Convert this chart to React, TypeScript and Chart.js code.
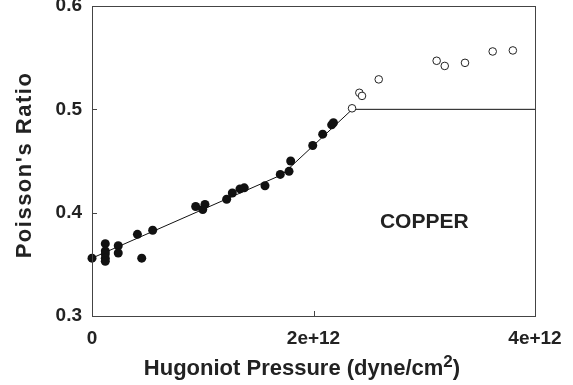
import React, { useEffect, useRef } from 'react';
import { Chart, registerables } from 'chart.js';

Chart.register(...registerables);

// Shocked copper: filled = measured solid points, open = above melt
const filledX = [0, 0.12e12, 0.12e12, 0.12e12, 0.12e12, 0.12e12, 0.237e12, 0.237e12, 0.41e12, 0.449e12, 0.548e12,
  0.936e12, 1.0e12, 1.02e12, 1.216e12, 1.267e12, 1.336e12, 1.375e12, 1.562e12, 1.70e12, 1.779e12, 1.794e12,
  1.993e12, 2.083e12, 2.164e12, 2.18e12];
const filledY = [0.356, 0.370, 0.363, 0.360, 0.356, 0.353, 0.368, 0.361, 0.379, 0.356, 0.383,
  0.406, 0.403, 0.408, 0.413, 0.419, 0.423, 0.424, 0.426, 0.437, 0.440, 0.450,
  0.465, 0.476, 0.485, 0.487];
const openX = [2.348e12, 2.414e12, 2.438e12, 2.589e12, 3.112e12, 3.185e12, 3.368e12, 3.618e12, 3.80e12];
const openY = [0.501, 0.516, 0.513, 0.529, 0.547, 0.542, 0.545, 0.556, 0.557];
const fitX = [0, 1.72e12, 2.35e12, 4e12];
const fitY = [0.356, 0.437, 0.5, 0.5];

const xTicks = [0, 2e12, 4e12];
const yTicks = [0.3, 0.4, 0.5, 0.6];
const xTitleMain = 'Hugoniot Pressure (dyne/cm';
const xTitleSup = '2';
const xTitleEnd = ')';
const yTitle = "Poisson's Ratio";
const annotation = { text: 'COPPER', x: 3.0e12, y: 0.391 };

const FONT = "'Liberation Sans', Arial, Helvetica, sans-serif";
const INK = '#222';

export default function App() {
  const ref = useRef<HTMLCanvasElement>(null);
  useEffect(() => {
    const frame = {
      id: 'frame',
      afterDatasetsDraw(chart: any) {
        const { ctx, chartArea: a, scales } = chart;
        ctx.save();
        ctx.strokeStyle = '#444';
        ctx.lineWidth = 1;
        ctx.strokeRect(Math.round(a.left) + 0.5, Math.round(a.top) + 0.5, Math.round(a.right - a.left), Math.round(a.bottom - a.top));
        ctx.beginPath();
        yTicks.forEach((v) => {
          const py = Math.round(scales.y.getPixelForValue(v)) + 0.5;
          ctx.moveTo(a.left, py);
          ctx.lineTo(a.left + 5, py);
        });
        xTicks.forEach((v) => {
          const px = Math.round(scales.x.getPixelForValue(v)) + 0.5;
          ctx.moveTo(px, a.bottom);
          ctx.lineTo(px, a.bottom - 5);
        });
        ctx.stroke();
        ctx.fillStyle = INK;
        ctx.font = `bold 21px ${FONT}`;
        ctx.textAlign = 'center';
        ctx.textBaseline = 'middle';
        ctx.fillText(annotation.text, scales.x.getPixelForValue(annotation.x), scales.y.getPixelForValue(annotation.y));

        // x title with superscript
        ctx.textBaseline = 'alphabetic';
        ctx.textAlign = 'left';
        const mainFont = `bold 22px ${FONT}`;
        const supFont = `bold 17px ${FONT}`;
        ctx.font = mainFont;
        const w1 = ctx.measureText(xTitleMain).width;
        const w3 = ctx.measureText(xTitleEnd).width;
        ctx.font = supFont;
        const w2 = ctx.measureText(xTitleSup).width;
        const total = w1 + w2 + w3;
        const cx = 302;
        const base = 375;
        let x0 = cx - total / 2;
        ctx.font = mainFont;
        ctx.fillText(xTitleMain, x0, base);
        ctx.font = supFont;
        ctx.fillText(xTitleSup, x0 + w1, base - 8);
        ctx.font = mainFont;
        ctx.fillText(xTitleEnd, x0 + w1 + w2, base);

        // y title
        ctx.save();
        ctx.translate(25, (a.top + a.bottom) / 2 + 4);
        ctx.rotate(-Math.PI / 2);
        ctx.textAlign = 'center';
        ctx.textBaseline = 'middle';
        ctx.font = `bold 22px ${FONT}`;
        (ctx as any).letterSpacing = '1.5px';
        ctx.fillText(yTitle, 0, 0);
        ctx.restore();
        ctx.restore();
      },
    };
    const chart = new Chart(ref.current!, {
      type: 'scatter',
      data: {
        datasets: [
          {
            type: 'line',
            data: fitX.map((x, i) => ({ x, y: fitY[i] })),
            borderColor: '#111',
            borderWidth: 1,
            pointRadius: 0,
            fill: false,
            order: 3,
          } as any,
          {
            data: filledX.map((x, i) => ({ x, y: filledY[i] })),
            backgroundColor: '#111',
            borderColor: '#111',
            pointRadius: 4.5,
            borderWidth: 0,
            order: 1,
          },
          {
            data: openX.map((x, i) => ({ x, y: openY[i] })),
            backgroundColor: '#fff',
            borderColor: '#222',
            pointRadius: 3.8,
            borderWidth: 1,
            order: 2,
          },
        ],
      },
      options: {
        responsive: false,
        animation: false,
        clip: false as any,
        layout: { padding: { left: 0, top: 6, right: 38, bottom: 0 } },
        plugins: { legend: { display: false }, tooltip: { enabled: false } },
        scales: {
          x: {
            type: 'linear',
            min: 0,
            max: 4e12,
            grid: { display: false, drawTicks: false },
            border: { display: false },
            afterBuildTicks: (s: any) => { s.ticks = xTicks.map((v) => ({ value: v })); },
            afterFit: (s: any) => { s.height = 69; s.paddingLeft = 0; s.paddingRight = 0; },
            ticks: {
              padding: 11,
              maxRotation: 0,
              color: INK,
              font: { family: FONT, size: 19, weight: 'bold' },
              callback: (v: any) => (v === 0 ? '0' : `${v / 1e12}e+12`),
            },
          },
          y: {
            type: 'linear',
            min: 0.3,
            max: 0.6,
            grid: { display: false, drawTicks: false },
            border: { display: false },
            afterBuildTicks: (s: any) => { s.ticks = yTicks.map((v) => ({ value: v })); },
            afterFit: (s: any) => { s.width = 92; s.paddingTop = 0; s.paddingBottom = 0; },
            ticks: {
              padding: 10,
              color: INK,
              font: { family: FONT, size: 19, weight: 'bold' },
              callback: (v: any) => Number(v).toFixed(1),
            },
          },
        },
      },
      plugins: [frame],
    });
    return () => chart.destroy();
  }, []);
  return (
    <div style={{ position: 'absolute', left: 0, top: 0, width: 573, height: 385, background: '#fff' }}>
      <canvas ref={ref} width={573} height={385} />
    </div>
  );
}
